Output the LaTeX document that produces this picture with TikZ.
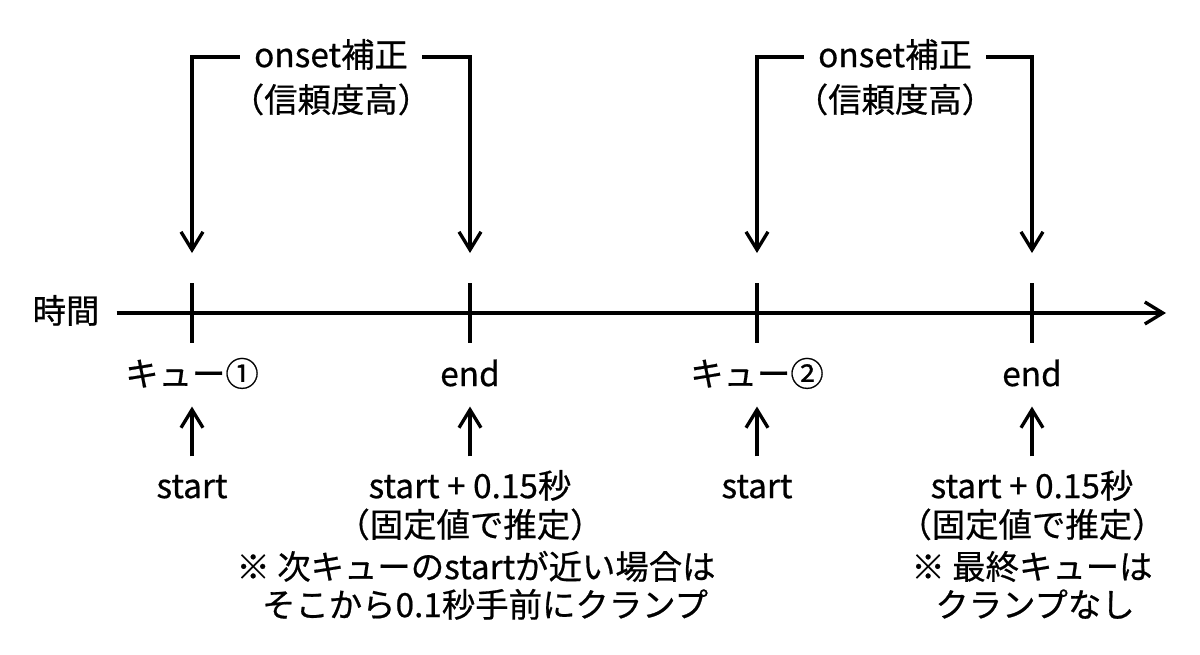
\documentclass[tikz,border=0pt]{standalone}
\usepackage{fontspec}
\setmainfont{Noto Sans CJK JP}[BoldFont=Noto Sans CJK JP, BoldFeatures={FakeBold=0.6}]
\usetikzlibrary{arrows.meta, positioning}

\tikzset{
    % Text labels
    label text/.style={
        font=\fontsize{19pt}{23pt}\selectfont\bfseries,
        inner sep=0pt, text height=14.4pt, text depth=2.9pt
    },
    % Bracket labels (gap to the line)
    bracket text/.style={
        label text, inner xsep=0.28cm
    },
    % Lines and arrows
    tick line/.style={
        line width=1.9pt
    },
    open arrow/.style={
        -{Straight Barb[length=0.36cm, width=0.44cm, line width=1.9pt]},
        line width=1.9pt
    }
}

\begin{document}
\begin{tikzpicture}[x=0.02cm, y=-0.02cm]

    \useasboundingbox (0,0) rectangle (1200,655);

    % Time axis
    \node[label text] (timeLbl) at (66,313) {時間};
    \coordinate (axisEnd) at (1166,313);
    \draw[open arrow, shorten <=0.34cm] (timeLbl.east) -- (axisEnd);

    % Ticks
    \coordinate (tickA) at (192,283);
    \coordinate (tickB) at (470,283);
    \coordinate (tickC) at (757,283);
    \coordinate (tickD) at (1032,283);
    \draw[tick line] (192,283) -- (192,343);
    \draw[tick line] (470,283) -- (470,343);
    \draw[tick line] (757,283) -- (757,343);
    \draw[tick line] (1032,283) -- (1032,343);

    % Onset brackets
    \node[bracket text] (corrA) at (331,57) {onset補正};
    \node[label text] (corrANote) at (331,102) {（信頼度高）};
    \draw[open arrow, shorten >=0.6cm] (corrA.west) -| (tickA);
    \draw[open arrow, shorten >=0.6cm] (corrA.east) -| (tickB);

    \node[bracket text] (corrB) at (895,57) {onset補正};
    \node[label text] (corrBNote) at (895,102) {（信頼度高）};
    \draw[open arrow, shorten >=0.6cm] (corrB.west) -| (tickC);
    \draw[open arrow, shorten >=0.6cm] (corrB.east) -| (tickD);

    % Cue 1
    \node[label text] (cueA) at (192,376) {キュー①};
    \node[label text] (startA) at (192,488) {start};
    \draw[open arrow, shorten <=0.32cm, shorten >=0.3cm] (startA.north) -- (cueA.south);

    \node[label text] (endA) at (470,376) {end};
    \node[label text] (endAVal) at (470,488) {start + 0.15秒};
    \node[label text] (endAFix) at (470,527) {（固定値で推定）};
    \node[label text] (endANote) at (476,569) {※ 次キューのstartが近い場合は};
    \node[label text] (endAClamp) at (485,607) {そこから0.1秒手前にクランプ};
    \draw[open arrow, shorten <=0.32cm, shorten >=0.3cm] (endAVal.north) -- (endA.south);

    % Cue 2
    \node[label text] (cueB) at (757,376) {キュー②};
    \node[label text] (startB) at (757,488) {start};
    \draw[open arrow, shorten <=0.32cm, shorten >=0.3cm] (startB.north) -- (cueB.south);

    \node[label text] (endB) at (1032,376) {end};
    \node[label text] (endBVal) at (1032,488) {start + 0.15秒};
    \node[label text] (endBFix) at (1032,527) {（固定値で推定）};
    \node[label text] (endBNote) at (1032,569) {※ 最終キューは};
    \node[label text] (endBClamp) at (1035,607) {クランプなし};
    \draw[open arrow, shorten <=0.32cm, shorten >=0.3cm] (endBVal.north) -- (endB.south);

\end{tikzpicture}
\end{document}
